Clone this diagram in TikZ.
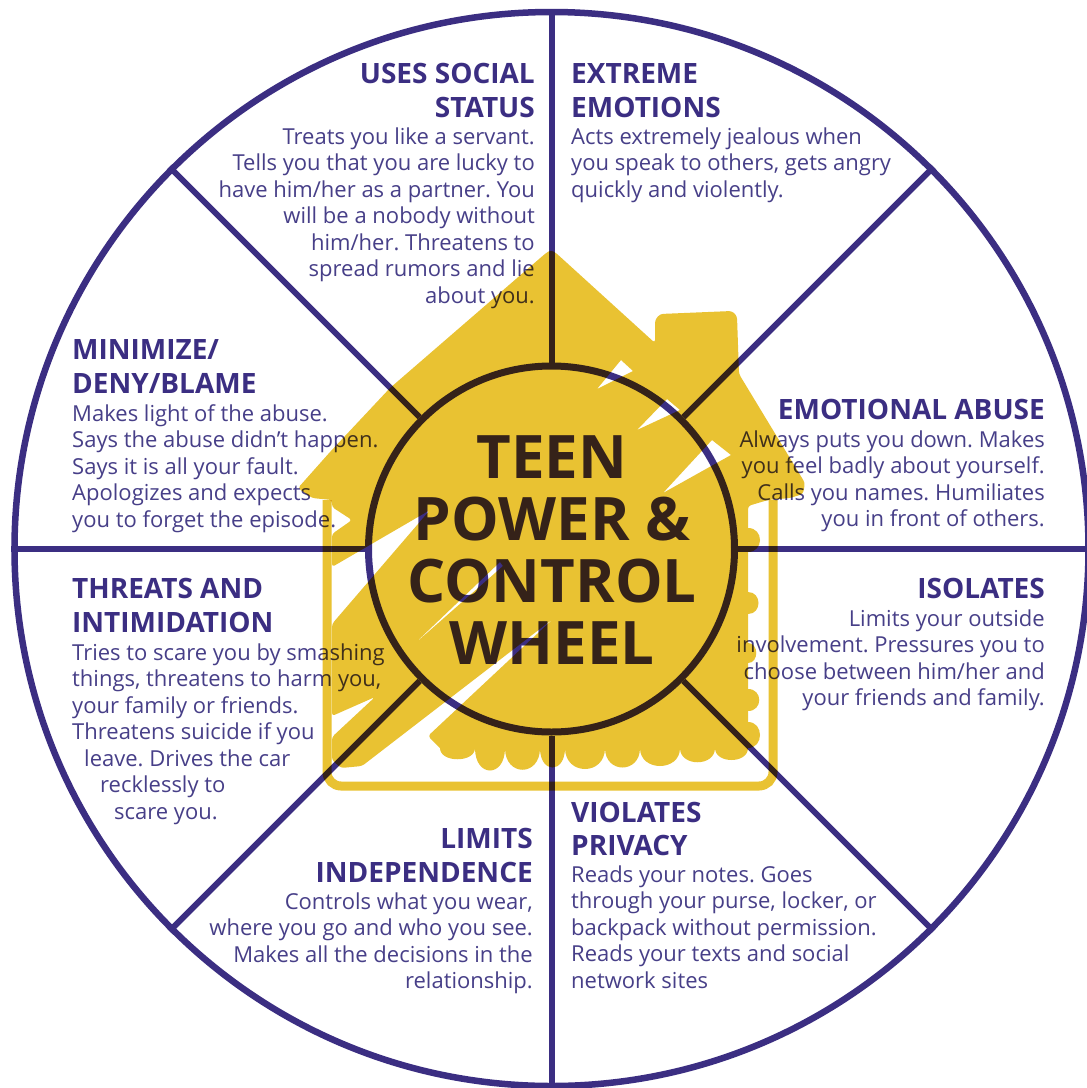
\documentclass[tikz,border=0pt]{standalone}
\usepackage{fontspec}
\setmainfont{Open Sans}
\definecolor{wpurple}{HTML}{3B2E82}
\definecolor{wbody}{HTML}{473F88}
\definecolor{hyellow}{HTML}{E9C232}
\tikzset{
  head/.style={font=\bfseries\fontsize{28}{34}\selectfont, text=wpurple, inner sep=0pt},
  bodytxt/.style={font=\fontsize{22}{26.5}\selectfont, text=wbody, inner sep=0pt},
  titletxt/.style={font=\bfseries\fontsize{60}{62}\selectfont, text=wpurple, inner sep=0pt, anchor=base},
  spoke/.style={draw=wpurple, line width=6pt},
}
\begin{document}
\frenchspacing
\begin{tikzpicture}[x=1pt,y=-1pt]
\useasboundingbox (0,0) rectangle (1087,1088);
\fill[white] (0,0) rectangle (1087,1088);

% wheel
\node[draw=wpurple, line width=6.5pt, circle, minimum size=1074pt, inner sep=0pt] (outer) at (551.5,549) {};
\node[draw=wpurple, line width=7pt, circle, minimum size=366pt, inner sep=0pt] (inner) at (551.5,549) {};
\foreach \a in {0,45,...,315} \draw[spoke] (inner.\a) -- (outer.\a);

% title
\node[titletxt] (t1) at (552,478) {TEEN};
\node[titletxt] (t2) at (552,540) {POWER \&};
\node[titletxt] (t3) at (552,602) {CONTROL};
\node[titletxt] (t4) at (552,664) {WHEEL};

% uses social status
\node[head, anchor=base east] (h1a) at (535,83) {USES SOCIAL};
\node[head, anchor=base east] (h1b) at (535,117) {STATUS};
\foreach \s [count=\i from 0] in {Treats you like a servant., Tells you that you are lucky to, have him/her as a partner. You, will be a nobody without, him/her. Threatens to, spread rumors and lie, about you.}
  \node[bodytxt, anchor=base east] (b1-\i) at (535,{144+26.5*\i}) {\s};

% extreme emotions
\node[head, anchor=base west] (h2a) at (571,83) {EXTREME};
\node[head, anchor=base west] (h2b) at (571,117) {EMOTIONS};
\foreach \s [count=\i from 0] in {Acts extremely jealous when, {you speak to others, gets angry}, quickly and violently.}
  \node[bodytxt, anchor=base west] (b2-\i) at (571,{144+26.5*\i}) {\s};

% minimize
\node[head, anchor=base west] (h3a) at (72,359) {MINIMIZE/};
\node[head, anchor=base west] (h3b) at (72,393) {DENY/BLAME};
\foreach \s [count=\i from 0] in {Makes light of the abuse., Says the abuse didn’t happen., Says it is all your fault., Apologizes and expects, you to forget the episode.}
  \node[bodytxt, anchor=base west] (b3-\i) at (72,{421+26.5*\i}) {\s};

% emotional abuse
\node[head, anchor=base east] (h4a) at (1045,419) {EMOTIONAL ABUSE};
\foreach \s [count=\i from 0] in {Always puts you down. Makes, you feel badly about yourself., Calls you names. Humiliates, you in front of others.}
  \node[bodytxt, anchor=base east] (b4-\i) at (1045,{447+26.5*\i}) {\s};

% threats
\node[head, anchor=base west] (h5a) at (72,598) {THREATS AND};
\node[head, anchor=base west] (h5b) at (72,632) {INTIMIDATION};
\foreach \s/\x [count=\i from 0] in {{Tries to scare you by smashing}/72, {things, threatens to harm you,}/72, {your family or friends.}/72, {Threatens suicide if you}/72, {leave. Drives the car}/84, {recklessly to}/100, {scare you.}/114}
  \node[bodytxt, anchor=base west] (b5-\i) at (\x,{660+26.5*\i}) {\s};

% isolates
\node[head, anchor=base east] (h6a) at (1045,598) {ISOLATES};
\foreach \s [count=\i from 0] in {Limits your outside, involvement. Pressures you to, choose between him/her and, your friends and family.}
  \node[bodytxt, anchor=base east] (b6-\i) at (1045,{626+26.5*\i}) {\s};

% limits independence
\node[head, anchor=base east] (h7a) at (533,848) {LIMITS};
\node[head, anchor=base east] (h7b) at (533,882) {INDEPENDENCE};
\foreach \s [count=\i from 0] in {{Controls what you wear,}, where you go and who you see., Makes all the decisions in the, relationship.}
  \node[bodytxt, anchor=base east] (b7-\i) at (533,{909+26.5*\i}) {\s};

% violates privacy
\node[head, anchor=base west] (h8a) at (571,822) {VIOLATES};
\node[head, anchor=base west] (h8b) at (571,855) {PRIVACY};
\foreach \s [count=\i from 0] in {Reads your notes. Goes, {through your purse, locker, or}, backpack without permission., Reads your texts and social, network sites}
  \node[bodytxt, anchor=base west] (b8-\i) at (571,{882+26.5*\i}) {\s};

% house (multiplied over everything)
\fill[hyellow, blend mode=multiply, even odd rule, rounded corners=3pt]
    (298,488) -- (330,452) -- (390,388) -- (546,253) -- (551,250) -- (556,253)
    -- (655,343) -- (655,320) -- (660,314) -- (732,311) -- (737,316)
    -- (739,374) -- (805,483) -- (803,494) -- (790,498) -- (768,500) -- (748,506)
    [sharp corners]
    -- (748,528) .. controls (764,528) and (764,552) .. (748,552)
    -- (748,592) .. controls (762,592) and (762,614) .. (748,614)
    -- (748,643) .. controls (759,643) and (759,663) .. (748,663)
    -- (748,689) .. controls (763,689) and (763,711) .. (748,711)
    -- (748,722) .. controls (764,722) and (764,748) .. (748,748)
    .. controls (748,764) and (715,764) .. (715,748)
    .. controls (715,767) and (680,767) .. (680,748)
    .. controls (680,772) and (640,772) .. (640,748)
    .. controls (640,774) and (605,774) .. (605,748)
    .. controls (605,776) and (565,776) .. (565,748)
    .. controls (565,774) and (540,774) .. (540,748)
    .. controls (540,777) and (505,777) .. (505,748)
    .. controls (505,778) and (475,778) .. (475,748)
    .. controls (475,763) and (440,763) .. (440,748)
    [rounded corners=3pt]
    -- (428,736) -- (553,619) -- (558,615)
    -- (362,766) -- (341,768) -- (332,760) -- (332,737) -- (375,697) -- (332,716)
    -- (332,624) -- (430,510) -- (332,567) -- (332,534) -- (352,520) -- (332,507)
    -- (332,500) -- (312,498) -- cycle
    [sharp corners]
    (597,389) -- (621,360) -- (633,371) -- cycle
    (637,430) -- (667,399) -- (680,410) -- cycle
    (663,493) -- (712,440) -- (731,455) -- cycle
    (411,647) -- (500,562) -- (503,566) -- cycle;
\draw[hyellow, blend mode=multiply, line width=9pt, rounded corners=14pt]
    (327,500) -- (327,786) -- (773,786) -- (773,500);
\end{tikzpicture}
\end{document}
